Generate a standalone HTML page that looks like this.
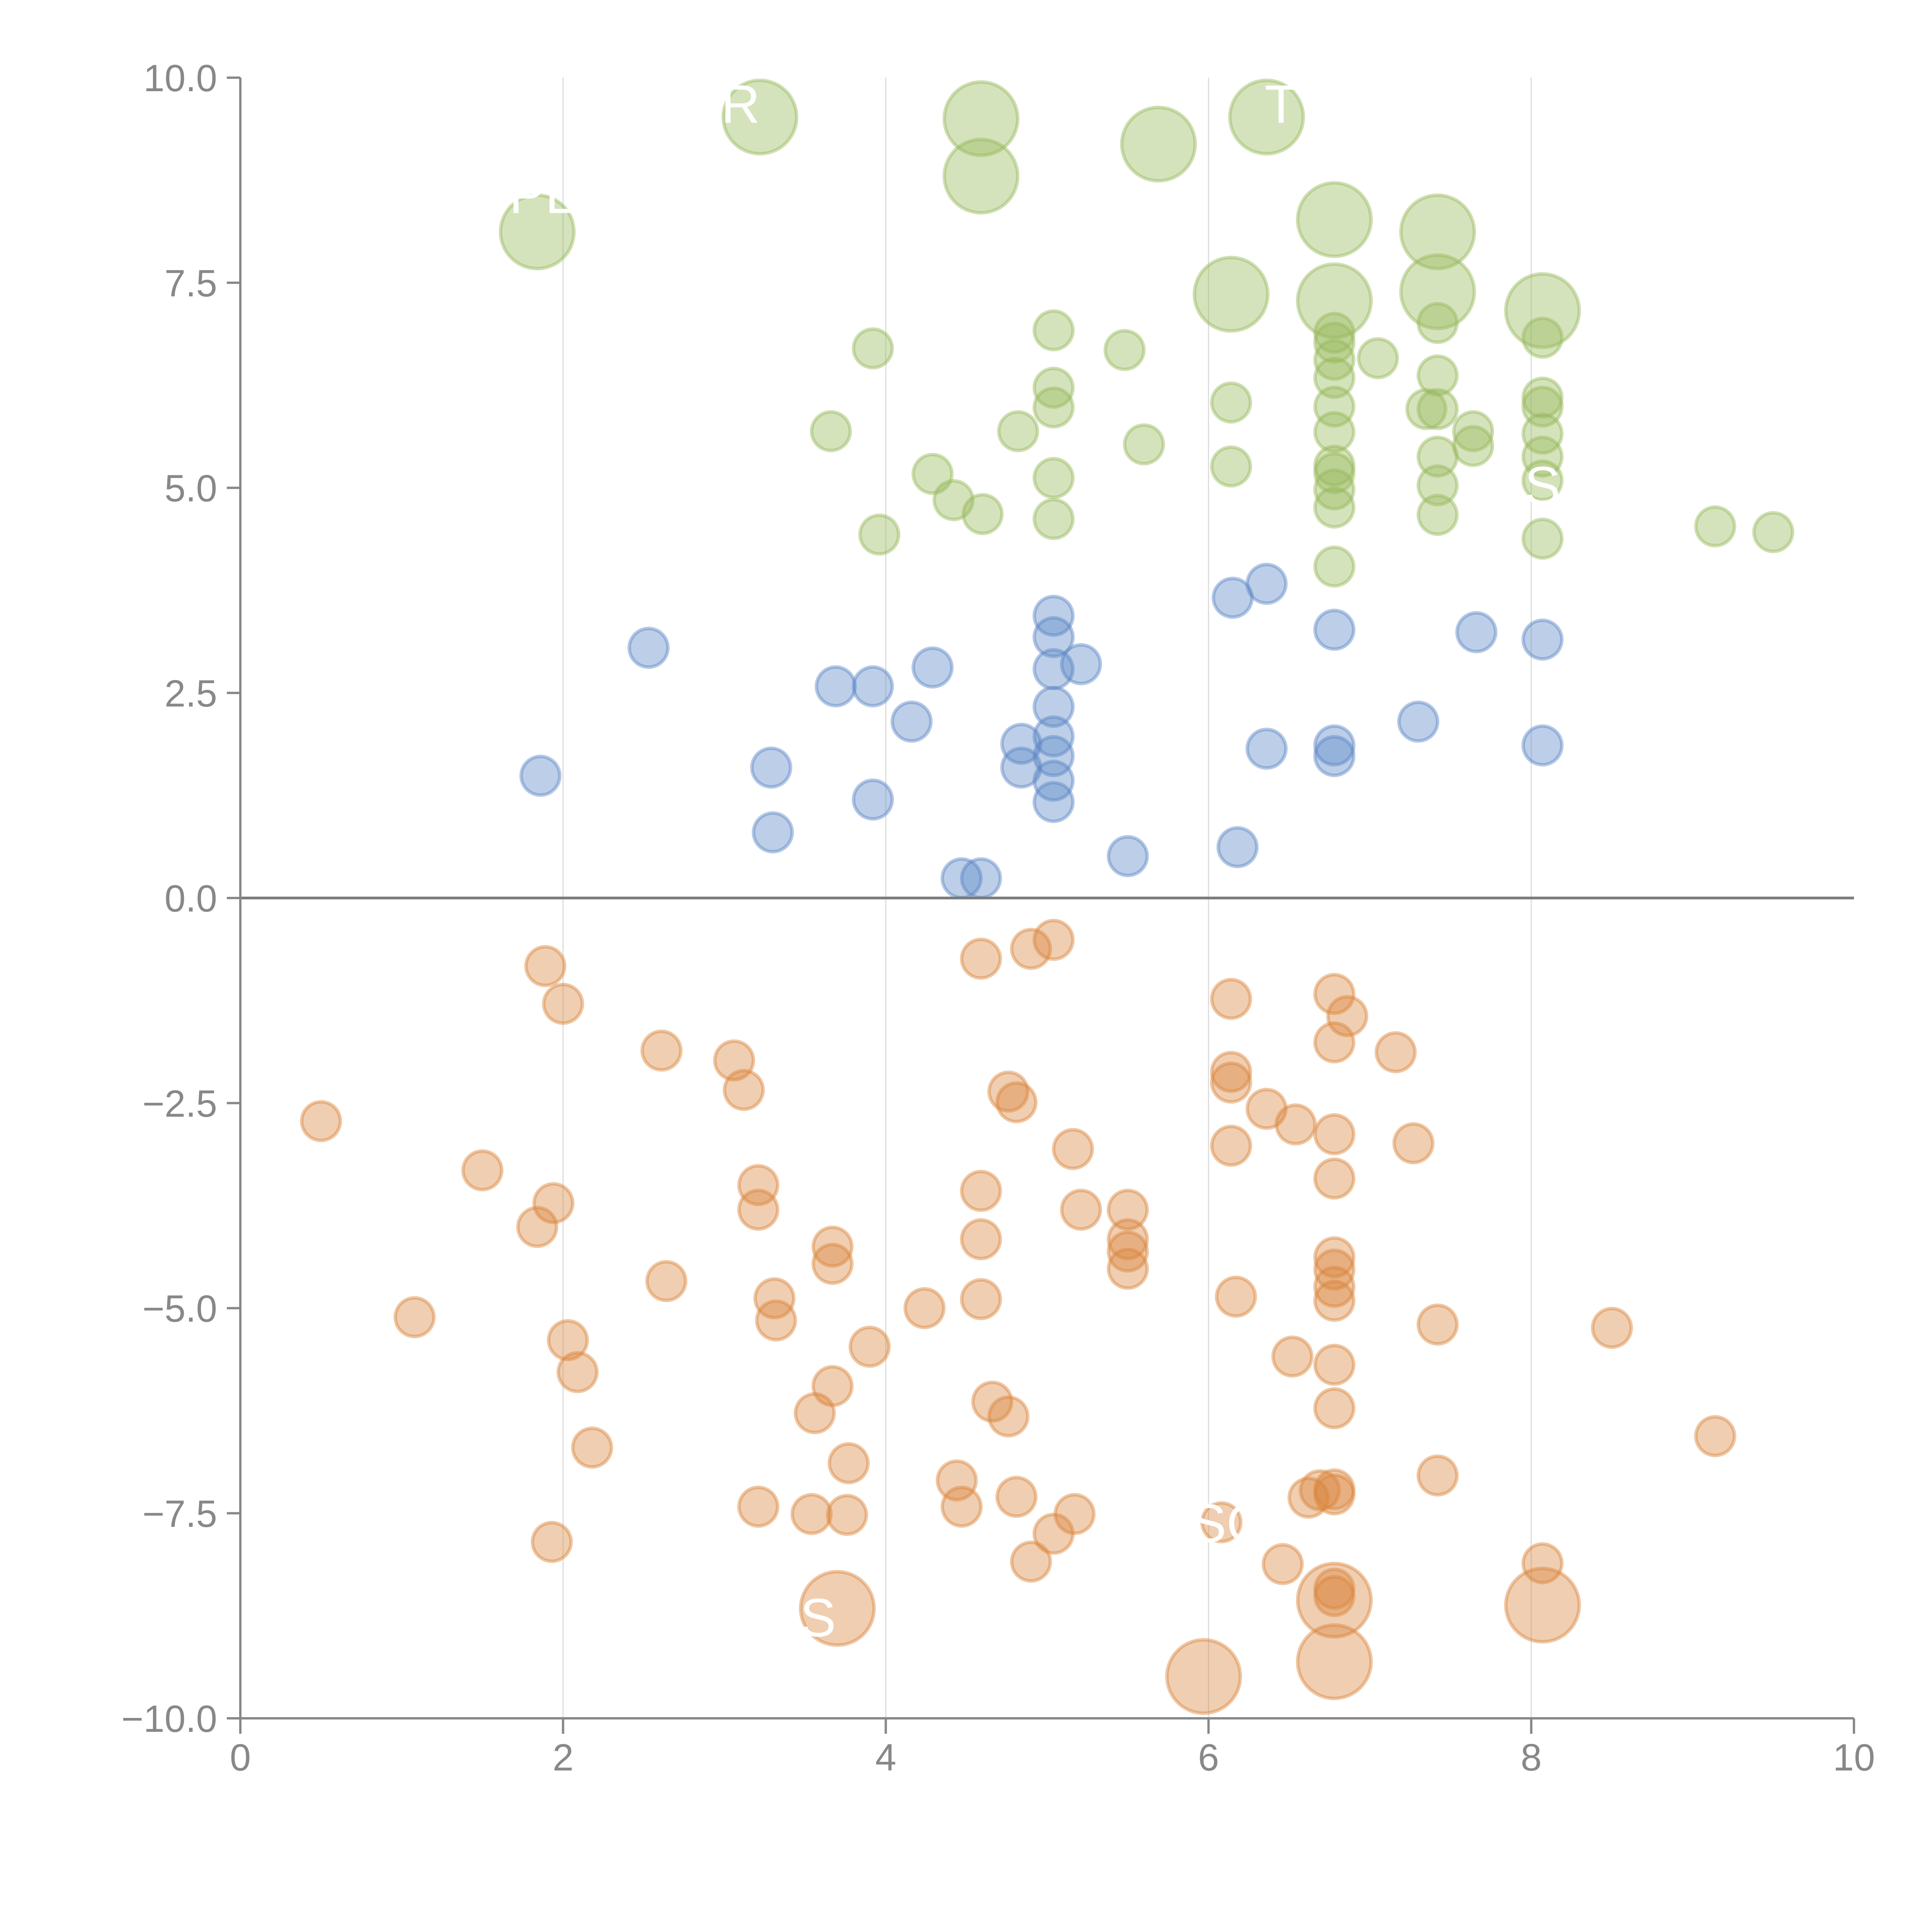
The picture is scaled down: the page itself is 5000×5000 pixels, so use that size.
<!DOCTYPE html>
<html><head><meta charset="utf-8"><style>
html,body{margin:0;padding:0;background:#fff;}
svg{display:block;}
text{font-family:"Liberation Sans",Arial,sans-serif;}
</style></head><body>
<svg id="chart" width="5000" height="5000" viewBox="0 0 5000 5000" xmlns="http://www.w3.org/2000/svg">
<g id="grid"></g>
<g id="marks"></g>
<g id="labels"></g>
<g id="axes"></g>
</svg>
<script>
const xTicks=[0,2,4,6,8,10];
const yTicks=[-10,-7.5,-5,-2.5,0,2.5,5,7.5,10];
const yTickLabels=["\u221210.0","\u22127.5","\u22125.0","\u22122.5","0.0","2.5","5.0","7.5","10.0"];
const greenBigX=[3.22,4.59,5.69,6.36,4.59,1.84,6.78,7.42,6.14,6.78,7.42,8.07];
const greenBigY=[9.52,9.50,9.19,9.52,8.80,8.12,8.27,8.12,7.36,7.28,7.39,7.16];
const greenX=[3.92,5.04,5.48,3.66,5.04,5.04,4.82,5.60,6.14,6.14,4.29,4.42,4.60,5.04,5.04,3.96,6.78,6.78,6.78,6.78,6.78,6.78,6.78,6.78,6.78,6.78,6.78,7.05,7.42,7.42,7.35,7.42,7.42,7.42,7.42,7.64,7.64,8.07,8.07,8.07,8.07,8.07,8.07,8.07,9.14,9.50];
const greenY=[6.70,6.92,6.68,5.69,6.22,5.98,5.69,5.53,6.04,5.26,5.17,4.85,4.68,5.12,4.62,4.43,6.89,6.77,6.56,6.34,5.99,5.68,5.27,5.18,4.98,4.76,4.04,6.58,7.01,6.37,5.96,5.96,5.38,5.03,4.67,5.69,5.51,6.83,6.10,5.99,5.66,5.38,5.09,4.38,4.53,4.46];
const blueX=[2.53,1.86,3.29,3.30,3.69,3.92,3.92,4.16,4.29,4.47,4.59,4.84,4.84,5.04,5.04,5.04,5.04,5.04,5.04,5.04,5.04,5.21,5.50,6.15,6.36,6.36,6.18,6.78,6.78,6.78,7.30,7.66,8.07,8.07];
const blueY=[3.05,1.49,1.59,0.80,2.58,2.58,1.20,2.15,2.81,0.24,0.24,1.88,1.59,3.44,3.18,2.79,2.33,1.97,1.73,1.43,1.17,2.85,0.51,3.66,3.83,1.82,0.62,3.27,1.86,1.73,2.15,3.24,3.15,1.86];
const orangeX=[0.50,1.08,1.50,1.84,1.89,1.94,2.00,2.03,2.09,2.18,1.93,2.61,2.64,3.06,3.12,3.21,3.21,3.21,3.31,3.32,3.54,3.56,3.67,3.67,3.67,3.77,3.76,3.90,4.24,4.44,4.47,4.59,4.59,4.59,4.59,4.66,4.76,4.76,4.81,4.81,4.90,4.90,5.04,5.04,5.16,5.17,5.21,5.50,5.50,5.50,5.50,6.08,6.14,6.14,6.14,6.14,6.17,6.36,6.46,6.52,6.54,6.62,6.69,6.78,6.78,6.78,6.78,6.78,6.78,6.78,6.78,6.78,6.78,6.78,6.78,6.78,6.78,6.86,7.16,7.27,7.42,7.42,8.07,8.50,9.14];
const orangeY=[-2.72,-5.11,-3.32,-4.01,-0.83,-3.72,-1.29,-5.39,-5.78,-6.70,-7.85,-1.86,-4.67,-1.98,-2.34,-3.50,-3.80,-7.42,-4.88,-5.15,-7.51,-6.28,-4.25,-4.46,-5.95,-6.89,-7.52,-5.47,-5.00,-7.10,-7.42,-0.74,-3.57,-4.16,-4.89,-6.14,-6.32,-2.36,-2.49,-7.30,-0.62,-8.09,-0.51,-7.75,-3.06,-7.51,-3.80,-3.80,-4.16,-4.31,-4.52,-7.61,-1.23,-2.12,-2.25,-3.02,-4.86,-2.57,-8.12,-5.59,-2.76,-7.31,-7.22,-1.17,-1.76,-2.88,-3.42,-4.38,-4.53,-4.74,-4.91,-5.69,-6.22,-7.21,-7.27,-8.42,-8.51,-1.44,-1.88,-2.99,-5.20,-7.04,-8.11,-5.24,-6.56];
const orangeBigX=[3.70,5.97,6.78,6.78,8.07];
const orangeBigY=[-8.66,-9.49,-8.56,-9.31,-8.62];
const labelText=["R","T","PL","S","SC","S"];
const labelX=[3.10,6.45,1.87,8.07,6.12,3.58];
const labelY=[9.45,9.45,8.35,4.80,-7.85,-9.00];

const X0=622,X1=4798,Y0=4447,Y1=201;
const sx=v=>X0+(v-0)/(10-0)*(X1-X0);
const sy=v=>Y0-(v+10)/20*(Y0-Y1);
const NS="http://www.w3.org/2000/svg";
function mk(tag,attrs,parent){const e=document.createElementNS(NS,tag);for(const k in attrs)e.setAttribute(k,attrs[k]);parent.appendChild(e);return e;}
const grid=document.getElementById('grid'),marks=document.getElementById('marks'),axes=document.getElementById('axes'),labels=document.getElementById('labels');

xTicks.forEach(t=>{if(t>0&&t<10){const l=mk('line',{x1:sx(t),x2:sx(t),y1:Y1,y2:Y0,stroke:'#dcdcdc','stroke-width':3},grid);

}});

function drawSeries(xs,ys,r,fill,stroke,name){
  xs.forEach((x,i)=>{const c=mk('circle',{cx:sx(x),cy:sy(ys[i]),r:r,fill:fill,'fill-opacity':0.4,stroke:stroke,'stroke-opacity':0.45,'stroke-width':9},marks);
  
  });
}
drawSeries(greenBigX,greenBigY,95,'#96b95a','#96b95a','green-bubble-large');
drawSeries(greenX,greenY,50,'#96b95a','#96b95a','green-bubble');
drawSeries(blueX,blueY,50,'#5b86c6','#5b86c6','blue-bubble');
drawSeries(orangeX,orangeY,50,'#d9843c','#d9843c','orange-bubble');
drawSeries(orangeBigX,orangeBigY,95,'#d9843c','#d9843c','orange-bubble-large');

labelText.forEach((s,i)=>{const t=mk('text',{x:sx(labelX[i]),y:sy(labelY[i]),'font-size':140,fill:'#ffffff','text-anchor':'middle'},labels);t.textContent=s;

});

const z=mk('line',{x1:X0,x2:X1,y1:sy(0),y2:sy(0),stroke:'#7a7a7a','stroke-width':7},axes);


const ya=mk('line',{x1:X0,x2:X0,y1:Y1,y2:Y0,stroke:'#888','stroke-width':6},axes);


const xa=mk('line',{x1:X0,x2:X1,y1:Y0,y2:Y0,stroke:'#888','stroke-width':6},axes);


yTicks.forEach((t,i)=>{
  const tk=mk('line',{x1:X0-35,x2:X0,y1:sy(t),y2:sy(t),stroke:'#888','stroke-width':6},axes);
  
  
  const tl=mk('text',{x:X0-60,y:sy(t)+35,'font-size':98,fill:'#888','text-anchor':'end'},axes);tl.textContent=yTickLabels[i];
  
  
});
xTicks.forEach(t=>{
  const tk=mk('line',{x1:sx(t),x2:sx(t),y1:Y0,y2:Y0+40,stroke:'#888','stroke-width':6},axes);
  
  
  const tl=mk('text',{x:sx(t),y:Y0+135,'font-size':98,fill:'#888','text-anchor':'middle'},axes);tl.textContent=String(t);
  
  
});
</script>
</body></html>
